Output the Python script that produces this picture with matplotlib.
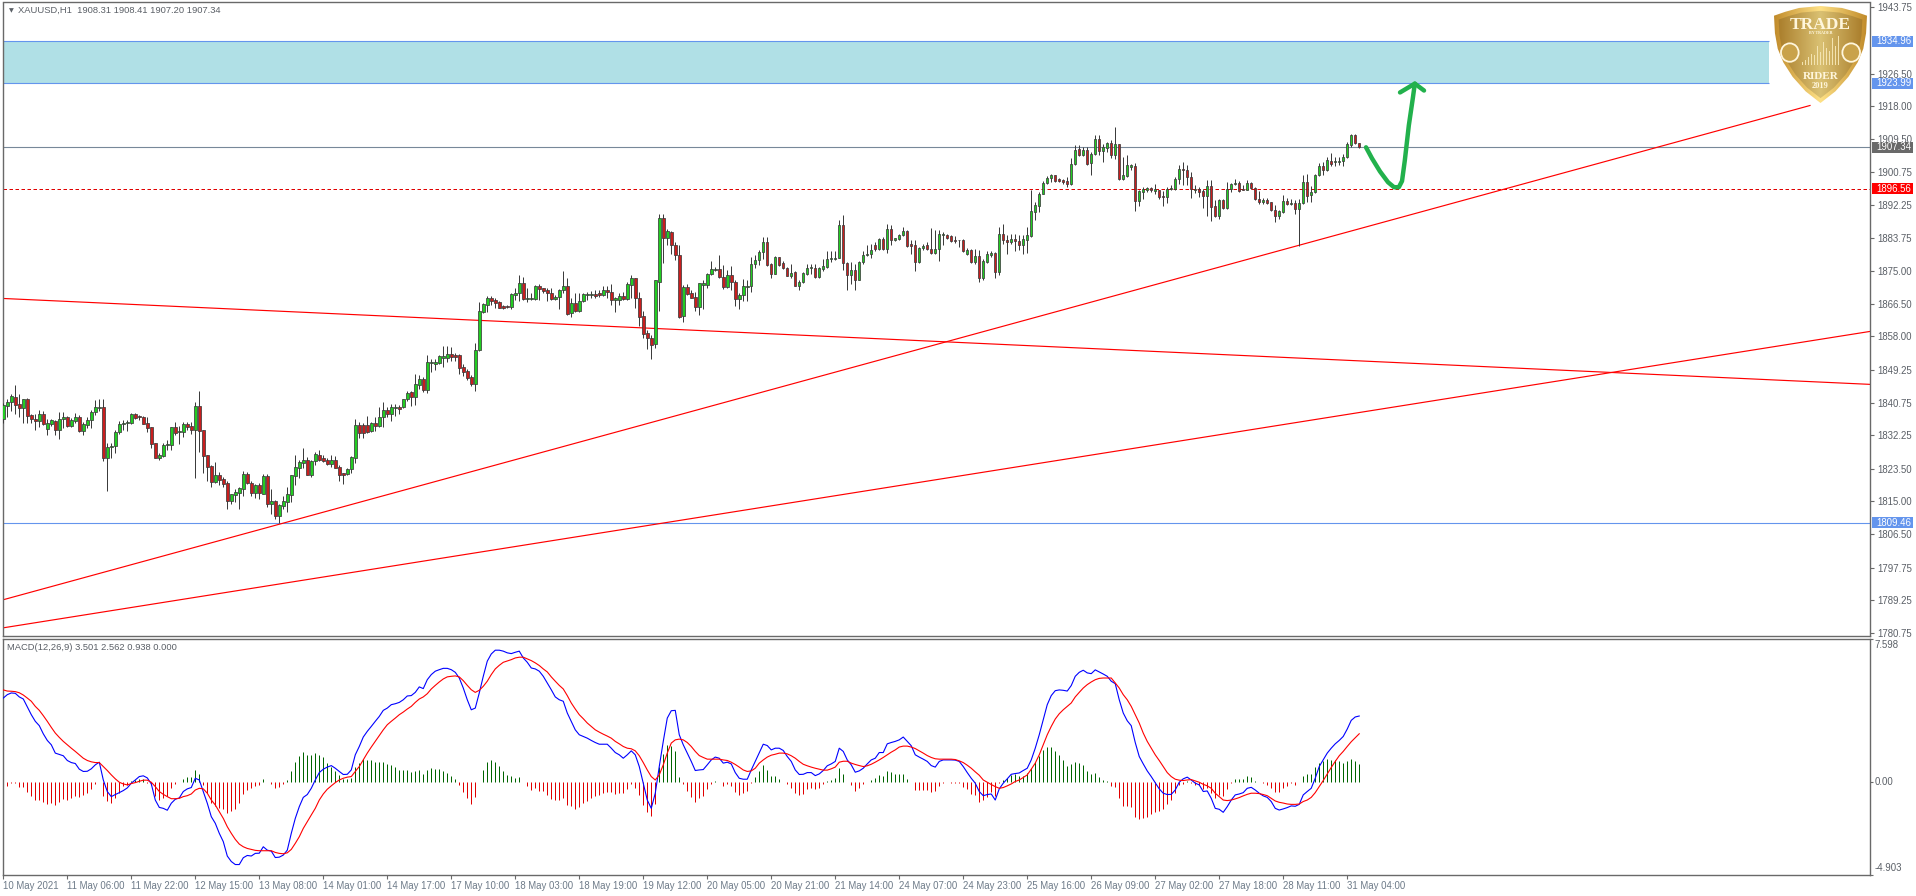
import numpy as np
import matplotlib
matplotlib.use("Agg")
import matplotlib.pyplot as plt
from matplotlib.patches import Rectangle, Polygon, Circle

plt.rcParams['font.family'] = ['Liberation Sans', 'DejaVu Sans']

# ---------- price data (H1 candles) ----------
highs = [
1840.7,1841.8,1843.0,1845.3,1843.0,1841.8,1841.9,1837.9,1837.9,1838.8,
1838.6,1836.4,1836.6,1836.2,1838.2,1838.2,1837.2,1836.8,1838.1,1837.5,
1835.7,1837.0,1838.8,1841.4,1841.8,1841.6,1830.1,1830.3,1833.6,1836.0,
1836.2,1836.2,1838.1,1838.1,1837.5,1837.3,1836.9,1834.4,1830.3,1827.5,
1830.3,1831.0,1834.4,1835.7,1834.6,1835.6,1835.7,1835.7,1841.0,1843.7,
1833.7,1827.2,1824.5,1825.2,1822.7,1821.4,1820.4,1816.9,1818.1,1818.8,
1822.9,1822.6,1820.3,1819.5,1819.7,1822.1,1822.1,1818.1,1815.3,1814.2,
1816.4,1818.8,1821.9,1827.2,1825.9,1828.9,1826.5,1825.9,1827.9,1828.4,
1827.1,1826.2,1827.1,1826.8,1824.5,1822.5,1823.8,1826.8,1836.4,1835.7,
1835.5,1837.2,1835.7,1837.0,1839.5,1841.0,1839.5,1840.5,1840.5,1840.2,
1841.8,1843.8,1843.8,1848.2,1847.9,1847.5,1853.1,1852.2,1852.2,1853.1,
1855.4,1855.4,1855.3,1853.8,1853.4,1850.9,1849.4,1848.0,1856.4,1867.0,
1866.8,1868.5,1868.5,1868.1,1867.2,1866.3,1866.2,1869.2,1870.5,1873.9,
1873.5,1870.5,1869.2,1871.3,1871.6,1870.7,1870.5,1870.5,1868.7,1870.4,
1875.0,1873.3,1868.1,1869.2,1869.2,1869.2,1869.6,1869.9,1870.2,1870.0,
1871.1,1871.2,1871.6,1868.3,1869.4,1869.6,1872.2,1873.9,1873.3,1869.6,
1864.6,1859.6,1858.3,1872.6,1890.0,1889.8,1886.1,1885.5,1882.6,1881.8,
1871.5,1871.6,1870.2,1869.6,1872.0,1872.6,1874.6,1877.6,1876.0,1879.2,
1876.6,1875.3,1876.3,1872.8,1869.2,1873.0,1872.8,1878.7,1879.2,1880.5,
1883.8,1883.8,1877.2,1878.9,1878.7,1877.6,1876.1,1876.8,1875.0,1872.6,
1874.8,1877.0,1877.0,1876.8,1876.1,1878.1,1880.2,1880.2,1880.2,1888.4,
1889.6,1877.4,1877.4,1876.8,1877.7,1880.2,1881.8,1882.2,1882.5,1883.7,
1883.8,1887.2,1887.1,1883.7,1884.8,1886.4,1885.7,1883.1,1883.1,1881.2,
1882.2,1882.5,1886.3,1885.7,1885.8,1885.1,1884.8,1884.4,1884.2,1883.2,
1883.5,1881.1,1880.9,1880.7,1880.4,1878.3,1880.2,1880.2,1880.0,1886.4,
1887.2,1884.4,1884.8,1884.8,1884.4,1884.4,1886.5,1896.1,1893.0,1895.6,
1898.5,1899.7,1900.4,1900.2,1899.4,1899.1,1899.6,1904.5,1907.8,1908.0,
1907.4,1907.4,1906.0,1910.4,1910.4,1908.2,1908.7,1909.3,1912.7,1908.2,
1904.9,1905.2,1903.0,1903.2,1896.2,1897.0,1897.0,1897.0,1897.8,1896.3,
1895.9,1897.0,1897.6,1899.6,1902.6,1903.5,1902.6,1900.8,1897.4,1897.0,
1896.5,1898.9,1898.9,1893.5,1893.7,1893.7,1898.3,1898.1,1899.0,1898.4,
1897.5,1898.7,1898.2,1897.0,1895.9,1894.2,1894.1,1893.1,1892.2,1891.0,
1894.8,1894.1,1893.7,1893.5,1893.7,1900.0,1900.4,1897.1,1900.4,1903.2,
1903.5,1904.9,1905.8,1904.8,1904.9,1905.5,1908.7,1910.7,1910.7,1908.41]

lows = [
1835.5,1837.0,1838.6,1837.7,1837.0,1835.3,1835.5,1835.3,1833.7,1834.4,
1834.9,1832.4,1834.6,1832.4,1831.3,1834.0,1834.4,1834.3,1835.3,1833.1,
1832.4,1834.0,1834.0,1837.6,1838.6,1825.6,1817.8,1826.3,1827.5,1832.5,
1833.6,1833.4,1835.1,1836.4,1836.2,1835.1,1833.1,1829.0,1826.4,1825.8,
1826.5,1828.4,1828.4,1832.3,1829.9,1831.8,1833.6,1832.5,1821.2,1827.8,
1822.5,1820.4,1818.8,1819.7,1819.3,1818.8,1813.0,1814.3,1814.8,1813.1,
1816.4,1819.5,1816.4,1816.0,1815.5,1816.9,1813.6,1811.7,1810.3,1809.4,
1812.9,1812.3,1814.9,1819.2,1821.2,1823.6,1821.8,1821.4,1824.5,1825.6,
1825.3,1824.6,1824.0,1823.6,1820.4,1819.6,1821.9,1822.3,1825.1,1831.5,
1831.5,1832.7,1833.1,1833.3,1834.3,1834.4,1836.9,1836.0,1837.2,1837.7,
1839.4,1841.1,1839.8,1840.0,1844.2,1843.6,1843.3,1848.8,1849.2,1850.8,
1850.0,1851.4,1851.6,1851.6,1848.2,1847.6,1846.6,1845.0,1843.8,1854.2,
1864.2,1864.4,1866.1,1865.5,1865.3,1865.1,1865.3,1865.1,1867.4,1867.2,
1867.4,1867.0,1867.4,1867.6,1867.4,1869.2,1867.2,1867.6,1867.6,1865.2,
1869.2,1863.6,1863.1,1864.4,1864.4,1867.1,1867.4,1868.1,1868.1,1868.3,
1868.6,1867.9,1866.3,1864.4,1866.3,1867.4,1867.4,1867.9,1865.5,1860.8,
1857.5,1854.7,1852.1,1854.9,1864.7,1877.2,1881.8,1879.4,1877.9,1862.8,
1861.8,1868.7,1867.9,1864.6,1863.5,1865.1,1870.5,1874.0,1875.0,1873.2,
1870.3,1870.5,1870.0,1865.9,1865.1,1867.2,1867.2,1869.7,1875.8,1876.6,
1878.1,1876.4,1873.2,1874.2,1876.4,1875.7,1873.7,1873.3,1871.1,1870.0,
1871.9,1874.0,1874.4,1873.3,1873.3,1875.1,1875.8,1877.4,1878.0,1878.4,
1875.2,1870.1,1871.6,1870.2,1872.6,1876.8,1878.9,1878.5,1880.3,1880.6,
1880.6,1879.8,1881.8,1882.9,1883.2,1884.3,1881.3,1879.6,1875.0,1877.2,
1880.6,1880.6,1879.6,1879.6,1877.6,1881.8,1883.4,1882.7,1882.4,1881.3,
1880.0,1879.2,1877.2,1877.0,1872.2,1872.8,1877.2,1878.7,1873.1,1874.1,
1882.0,1879.6,1882.0,1880.3,1880.5,1879.6,1879.8,1883.9,1888.3,1890.4,
1895.0,1897.8,1898.2,1898.3,1898.2,1897.8,1897.0,1897.5,1902.6,1905.0,
1905.0,1902.8,1900.2,1905.4,1905.4,1903.5,1906.1,1904.6,1904.3,1898.9,
1898.9,1899.6,1901.5,1890.7,1892.0,1893.8,1895.6,1895.6,1895.0,1893.9,
1892.0,1892.9,1896.3,1896.3,1897.8,1897.4,1897.4,1894.1,1895.4,1894.4,
1891.5,1889.3,1888.1,1889.1,1888.5,1891.3,1891.3,1895.6,1897.5,1895.6,
1896.1,1896.1,1896.4,1893.6,1892.6,1892.6,1892.6,1890.7,1887.8,1888.7,
1890.3,1892.2,1892.2,1890.0,1881.7,1892.6,1893.0,1893.0,1895.5,1899.7,
1900.0,1901.1,1902.4,1902.4,1902.6,1902.4,1904.6,1907.5,1908.1,1907.2]

opens = [
1836.4,1839.9,1841.0,1842.1,1840.3,1839.4,1841.6,1837.6,1836.6,1836.0,
1837.9,1833.9,1835.2,1836.0,1833.7,1836.5,1836.9,1834.7,1836.0,1836.9,
1833.4,1835.0,1836.1,1838.4,1839.3,1839.5,1826.4,1829.2,1829.5,1833.1,
1835.1,1835.3,1835.5,1837.7,1837.2,1837.1,1835.3,1834.4,1830.1,1826.4,
1826.9,1829.8,1829.8,1834.4,1833.0,1833.1,1835.2,1834.6,1833.7,1839.8,
1833.5,1827.1,1824.2,1820.1,1822.0,1820.7,1819.7,1815.1,1816.6,1817.3,
1818.3,1822.1,1819.9,1817.3,1819.3,1817.0,1821.6,1814.4,1815.0,1811.3,
1813.8,1814.9,1816.7,1821.7,1823.8,1825.0,1825.9,1821.8,1825.4,1827.2,
1826.2,1825.7,1824.8,1825.8,1824.0,1822.4,1822.2,1823.5,1826.4,1834.8,
1834.8,1834.9,1833.4,1835.3,1834.7,1837.0,1838.7,1837.9,1839.3,1839.5,
1839.5,1841.6,1843.4,1842.3,1845.4,1847.0,1844.0,1851.0,1850.8,1851.1,
1852.4,1852.3,1853.4,1853.1,1853.1,1849.9,1848.9,1847.3,1845.6,1854.4,
1864.4,1866.3,1868.1,1867.4,1867.1,1866.0,1866.0,1865.7,1868.8,1869.2,
1871.8,1867.8,1867.8,1867.8,1871.2,1870.5,1870.0,1869.4,1867.8,1868.3,
1870.2,1871.2,1864.0,1866.8,1864.6,1867.2,1868.8,1868.8,1869.0,1869.4,
1868.9,1870.2,1869.7,1867.6,1867.6,1868.6,1867.8,1871.5,1873.1,1867.9,
1863.3,1859.0,1857.5,1855.9,1872.2,1889.0,1883.7,1885.3,1881.9,1879.3,
1863.2,1870.8,1869.4,1868.2,1865.7,1871.4,1871.4,1874.2,1875.3,1875.5,
1873.6,1870.8,1874.1,1872.3,1867.8,1868.8,1871.0,1871.2,1876.8,1878.0,
1880.0,1882.5,1876.8,1874.3,1878.6,1877.2,1875.9,1873.8,1874.7,1871.2,
1872.2,1874.2,1875.9,1875.9,1873.5,1875.6,1876.1,1878.3,1878.2,1878.5,
1887.1,1877.2,1874.0,1875.4,1872.8,1877.3,1879.2,1879.5,1881.9,1880.8,
1883.5,1880.8,1886.1,1883.2,1883.4,1884.5,1885.6,1882.0,1881.9,1877.4,
1881.1,1881.9,1880.9,1879.8,1880.8,1884.5,1884.5,1884.1,1883.2,1883.2,
1883.2,1879.5,1880.6,1877.4,1878.9,1873.1,1877.4,1879.3,1879.7,1874.8,
1884.8,1883.1,1882.6,1883.5,1882.9,1881.8,1883.2,1884.2,1890.4,1892.0,
1895.1,1898.0,1899.3,1900.0,1899.1,1898.7,1898.4,1897.7,1902.9,1906.8,
1905.3,1906.5,1903.2,1905.6,1909.4,1906.3,1907.2,1908.3,1905.3,1908.1,
1899.0,1899.8,1902.1,1902.3,1893.4,1895.6,1896.3,1896.7,1895.9,1896.1,
1894.7,1894.3,1896.5,1896.5,1899.1,1901.7,1901.5,1899.6,1896.3,1896.5,
1895.9,1894.5,1897.3,1891.9,1889.4,1893.5,1891.6,1896.5,1897.8,1897.9,
1896.5,1896.2,1898.1,1896.6,1893.9,1893.0,1893.6,1893.0,1891.0,1889.4,
1890.4,1893.4,1892.4,1892.8,1891.2,1892.8,1898.2,1894.9,1895.6,1900.0,
1902.4,1901.3,1903.7,1903.5,1903.5,1903.7,1904.8,1908.0,1910.5,1908.31]

closes = [
1840.2,1841.0,1842.4,1840.2,1839.4,1841.6,1837.3,1836.5,1836.0,1837.9,
1835.1,1835.3,1836.1,1833.7,1836.6,1836.9,1834.7,1836.1,1836.9,1833.3,
1835.1,1836.1,1838.4,1839.5,1839.5,1826.4,1829.3,1829.4,1833.2,1835.1,
1835.4,1835.7,1837.7,1836.8,1836.9,1835.2,1834.2,1830.0,1826.4,1827.1,
1829.8,1829.9,1834.4,1832.9,1833.3,1835.1,1834.3,1833.7,1839.8,1833.4,
1826.9,1824.0,1820.1,1822.0,1820.6,1819.5,1815.2,1816.8,1817.4,1818.4,
1822.1,1819.8,1817.3,1819.3,1817.3,1821.6,1814.3,1815.1,1811.3,1814.0,
1815.1,1816.8,1821.8,1823.9,1825.2,1825.9,1821.9,1825.4,1827.3,1825.9,
1825.6,1824.8,1825.8,1823.8,1821.9,1822.0,1823.5,1826.5,1834.8,1832.9,
1832.9,1833.2,1835.3,1834.7,1837.1,1838.7,1837.9,1839.5,1839.5,1839.2,
1841.6,1843.3,1842.3,1845.6,1847.0,1844.0,1851.3,1851.2,1851.3,1852.8,
1852.8,1853.4,1852.7,1852.6,1849.8,1848.8,1847.2,1845.6,1854.4,1864.6,
1866.4,1868.1,1867.2,1866.7,1865.5,1865.4,1865.7,1869.0,1869.2,1871.8,
1867.8,1868.1,1868.1,1871.2,1870.4,1869.9,1869.4,1867.8,1868.3,1870.2,
1871.2,1863.8,1866.8,1864.6,1867.3,1869.0,1869.0,1869.0,1868.6,1868.9,
1870.2,1869.7,1867.6,1867.9,1868.6,1867.8,1871.6,1873.1,1867.9,1863.1,
1858.6,1857.5,1855.7,1872.6,1889.0,1883.7,1885.4,1881.9,1879.2,1863.0,
1870.8,1869.1,1868.0,1865.7,1871.8,1871.8,1874.4,1875.7,1875.7,1873.4,
1870.8,1874.1,1872.2,1867.8,1868.9,1871.2,1871.2,1877.0,1877.8,1880.1,
1882.5,1876.6,1874.3,1878.6,1876.6,1875.9,1873.8,1874.6,1871.2,1872.3,
1874.5,1875.9,1876.0,1873.5,1875.8,1876.3,1878.3,1878.5,1878.5,1887.1,
1877.2,1874.0,1875.4,1872.8,1877.5,1879.3,1879.6,1880.6,1880.7,1883.5,
1880.8,1886.1,1883.1,1883.6,1884.5,1885.6,1881.6,1881.6,1877.4,1881.1,
1881.7,1880.9,1879.8,1880.9,1884.8,1884.8,1883.7,1882.9,1882.9,1883.1,
1880.3,1880.6,1877.4,1879.0,1873.1,1877.6,1879.4,1879.7,1874.8,1884.8,
1883.1,1882.7,1883.5,1882.9,1881.8,1883.3,1884.4,1890.6,1892.2,1895.2,
1898.1,1899.4,1900.2,1898.6,1898.5,1898.2,1897.7,1903.0,1906.7,1905.4,
1906.5,1903.0,1905.6,1909.4,1906.3,1907.3,1908.3,1905.4,1908.1,1899.0,
1900.0,1902.6,1902.6,1893.3,1895.9,1896.5,1896.6,1896.1,1896.5,1894.4,
1894.3,1896.5,1896.7,1899.1,1901.7,1901.3,1899.6,1896.5,1896.5,1895.6,
1894.5,1897.3,1891.7,1889.4,1893.5,1891.6,1896.5,1897.8,1898.1,1895.9,
1896.2,1898.1,1896.7,1893.8,1893.0,1893.6,1892.8,1890.9,1889.4,1890.6,
1893.4,1892.5,1892.8,1891.2,1892.9,1898.3,1894.6,1895.7,1900.0,1902.3,
1901.3,1903.9,1902.9,1903.7,1903.7,1904.9,1908.1,1910.4,1908.4,1907.34]

# ---------- MACD data ----------
macd_main = [
4.45,4.63,4.72,4.70,4.51,4.40,3.98,3.57,3.22,2.99,2.56,2.21,1.98,1.54,1.47,1.40,1.15,1.04,0.99,0.69,
0.57,0.58,0.71,0.92,1.06,0.12,-0.49,-0.76,-0.65,-0.55,-0.44,-0.30,-0.05,0.12,0.30,0.34,0.23,-0.09,-0.94,-1.33,
-1.38,-1.48,-1.11,-0.90,-0.83,-0.49,-0.35,-0.28,0.21,0.12,-0.49,-1.11,-1.82,-2.17,-2.70,-3.14,-3.90,-4.19,-4.35,-4.35,
-3.99,-3.87,-3.90,-3.76,-3.75,-3.41,-3.59,-3.64,-3.98,-3.96,-3.85,-3.59,-2.70,-1.91,-1.29,-0.80,-0.65,-0.32,0.12,0.51,
0.69,0.80,0.88,0.74,0.57,0.41,0.42,0.65,1.45,1.89,2.39,2.69,2.95,3.22,3.48,3.80,3.92,4.10,4.15,4.22,
4.36,4.56,4.58,4.75,5.04,4.95,5.42,5.69,5.87,5.95,6.02,6.02,5.95,5.81,5.51,4.98,4.36,3.83,3.92,4.72,
5.60,6.40,6.78,6.98,6.98,6.93,6.84,6.80,6.87,6.93,6.57,6.34,6.04,5.99,5.87,5.60,5.25,4.89,4.51,4.36,
4.28,3.66,3.22,2.77,2.51,2.42,2.33,2.21,2.10,2.01,2.01,2.01,1.80,1.57,1.45,1.27,1.45,1.66,1.45,0.83,
-0.05,-0.94,-1.38,-0.58,0.83,2.16,3.39,3.78,3.80,2.51,1.98,1.54,1.10,0.62,0.65,0.67,0.92,1.18,1.33,1.27,
1.01,1.06,0.97,0.51,0.21,0.16,0.16,0.65,1.10,1.54,2.01,1.94,1.71,1.80,1.80,1.68,1.36,1.10,0.65,0.41,
0.42,0.51,0.51,0.35,0.44,0.62,0.87,0.97,1.10,1.80,1.63,1.18,0.92,0.53,0.60,0.74,0.97,1.18,1.27,1.57,
1.57,2.03,2.10,2.16,2.24,2.39,2.16,1.93,1.45,1.33,1.22,1.10,0.88,0.80,1.10,1.18,1.18,1.18,1.17,1.10,
0.83,0.51,0.21,-0.05,-0.49,-0.71,-0.65,-0.62,-0.94,-0.35,-0.05,0.18,0.42,0.46,0.49,0.62,0.74,1.18,1.80,2.51,
3.30,4.10,4.58,4.84,4.88,4.86,4.82,5.11,5.60,5.81,5.92,5.78,5.74,5.94,5.83,5.72,5.60,5.34,5.21,4.36,
3.66,3.25,2.99,2.10,1.36,0.97,0.60,0.30,-0.02,-0.35,-0.58,-0.65,-0.64,-0.41,0.00,0.18,0.27,0.12,-0.05,-0.14,
-0.49,-0.46,-0.85,-1.38,-1.43,-1.59,-1.29,-0.94,-0.67,-0.62,-0.55,-0.32,-0.27,-0.41,-0.58,-0.72,-0.80,-1.02,-1.38,-1.47,
-1.41,-1.34,-1.25,-1.27,-1.17,-0.67,-0.49,-0.32,0.21,0.83,1.18,1.54,1.80,2.03,2.21,2.42,2.81,3.27,3.45,3.501]

macd_signal = [
4.88,4.82,4.81,4.79,4.73,4.61,4.45,4.28,4.01,3.80,3.52,3.22,2.90,2.60,2.37,2.16,1.98,1.80,1.63,1.45,
1.27,1.15,1.08,1.04,1.04,0.83,0.62,0.39,0.18,0.00,-0.09,-0.14,-0.07,-0.02,0.05,0.11,0.11,0.00,-0.23,-0.49,
-0.64,-0.76,-0.87,-0.87,-0.85,-0.76,-0.71,-0.62,-0.41,-0.32,-0.35,-0.58,-0.94,-1.20,-1.55,-1.91,-2.35,-2.70,-3.02,-3.27,
-3.41,-3.50,-3.55,-3.60,-3.62,-3.62,-3.62,-3.62,-3.71,-3.76,-3.78,-3.73,-3.55,-3.23,-2.88,-2.44,-2.08,-1.73,-1.38,-0.94,
-0.62,-0.37,-0.19,-0.02,0.12,0.21,0.27,0.30,0.57,0.83,1.18,1.54,1.86,2.16,2.46,2.77,3.04,3.22,3.39,3.57,
3.71,3.87,4.01,4.22,4.40,4.51,4.68,4.93,5.12,5.30,5.46,5.57,5.60,5.62,5.57,5.37,5.12,4.89,4.75,4.86,
5.07,5.34,5.69,5.99,6.18,6.34,6.41,6.48,6.57,6.61,6.61,6.52,6.43,6.31,6.17,5.99,5.83,5.57,5.34,5.12,
4.93,4.58,4.19,3.87,3.57,3.36,3.13,2.95,2.77,2.65,2.54,2.44,2.33,2.16,2.03,1.89,1.80,1.77,1.66,1.40,
1.04,0.65,0.30,0.12,0.39,0.92,1.54,2.07,2.24,2.28,2.24,2.10,1.89,1.63,1.41,1.31,1.22,1.22,1.22,1.22,
1.18,1.15,1.06,0.94,0.80,0.65,0.57,0.60,0.74,1.01,1.18,1.33,1.43,1.48,1.54,1.54,1.50,1.40,1.27,1.10,
0.95,0.87,0.80,0.74,0.69,0.64,0.64,0.71,0.80,1.06,1.11,1.11,1.01,0.94,0.88,0.83,0.87,0.95,1.06,1.18,
1.31,1.45,1.59,1.71,1.86,1.91,1.91,1.86,1.78,1.66,1.54,1.41,1.31,1.24,1.22,1.22,1.22,1.22,1.20,1.13,
1.04,0.90,0.74,0.55,0.37,0.12,0.00,-0.12,-0.23,-0.32,-0.28,-0.19,-0.09,0.04,0.12,0.25,0.39,0.69,1.01,1.45,
1.98,2.51,2.95,3.34,3.62,3.83,4.01,4.19,4.51,4.75,4.98,5.16,5.30,5.42,5.49,5.51,5.51,5.51,5.25,4.98,
4.63,4.36,4.01,3.57,3.13,2.60,2.16,1.80,1.45,1.15,0.83,0.51,0.30,0.16,0.11,0.09,0.12,0.14,0.07,0.00,
-0.11,-0.19,-0.32,-0.58,-0.76,-0.94,-0.97,-0.94,-0.88,-0.81,-0.72,-0.64,-0.58,-0.58,-0.60,-0.65,-0.71,-0.85,-0.99,-1.06,
-1.10,-1.15,-1.17,-1.17,-1.15,-1.02,-0.94,-0.80,-0.55,-0.23,0.09,0.44,0.78,1.10,1.40,1.63,1.89,2.14,2.35,2.562]

macd_hist = [
-0.41,-0.19,-0.05,-0.05,-0.23,-0.23,-0.49,-0.71,-0.94,-0.94,-1.02,-1.15,-1.11,-1.20,-1.02,-0.90,-0.94,-0.81,-0.72,-0.76,
-0.67,-0.55,-0.35,-0.07,0.00,-0.72,-0.99,-1.10,-0.85,-0.58,-0.18,-0.14,0.05,0.12,0.16,0.16,-0.05,-0.14,-0.71,-0.94,
-0.81,-0.72,-0.32,-0.07,0.00,0.18,0.30,0.30,0.65,0.44,-0.14,-0.58,-1.08,-1.25,-1.38,-1.43,-1.61,-1.52,-1.41,-1.11,
-0.62,-0.41,-0.32,-0.18,-0.14,0.18,0.00,-0.11,-0.28,-0.23,-0.11,0.12,0.60,1.06,1.38,1.61,1.43,1.45,1.54,1.45,
1.31,1.04,0.83,0.57,0.39,0.18,0.18,0.21,0.81,1.01,1.22,1.18,1.18,1.06,1.06,1.06,0.97,0.92,0.83,0.65,
0.65,0.65,0.55,0.60,0.64,0.46,0.65,0.76,0.72,0.72,0.60,0.51,0.34,0.19,-0.12,-0.49,-0.85,-1.13,-0.76,0.02,
0.65,1.06,1.18,1.06,0.88,0.60,0.37,0.34,0.23,0.28,0.00,-0.19,-0.41,-0.28,-0.46,-0.46,-0.67,-0.88,-0.92,-0.92,
-0.83,-1.20,-1.25,-1.40,-1.29,-1.10,-0.99,-0.85,-0.72,-0.69,-0.55,-0.51,-0.53,-0.62,-0.55,-0.55,-0.37,-0.09,-0.32,-0.67,
-1.20,-1.55,-1.77,-1.17,0.83,1.50,1.98,1.93,1.63,0.30,-0.09,-0.46,-0.76,-1.02,-0.81,-0.71,-0.37,-0.09,0.04,0.00,
-0.18,-0.11,-0.18,-0.49,-0.67,-0.58,-0.46,-0.04,0.30,0.62,0.92,0.65,0.35,0.35,0.18,0.02,-0.11,-0.32,-0.55,-0.67,
-0.62,-0.37,-0.32,-0.35,-0.32,-0.09,0.04,0.14,0.25,0.76,0.44,0.02,-0.12,-0.46,-0.32,-0.09,0.00,0.12,0.21,0.39,
0.35,0.60,0.55,0.46,0.46,0.46,0.19,0.00,-0.41,-0.41,-0.41,-0.41,-0.51,-0.48,-0.19,-0.05,0.00,-0.04,-0.04,-0.05,
-0.25,-0.35,-0.64,-0.67,-1.02,-0.92,-0.80,-0.51,-0.71,-0.05,0.12,0.23,0.39,0.44,0.34,0.34,0.48,0.76,1.06,1.40,
1.71,1.87,1.87,1.66,1.45,1.15,0.88,0.95,1.08,1.04,0.92,0.60,0.46,0.51,0.28,0.12,0.07,-0.19,-0.23,-0.85,
-1.24,-1.25,-1.29,-1.86,-1.93,-1.91,-1.82,-1.68,-1.55,-1.50,-1.43,-1.15,-0.94,-0.55,-0.14,-0.09,0.07,-0.04,-0.14,-0.14,
-0.37,-0.32,-0.58,-0.81,-0.67,-0.72,-0.35,-0.02,0.18,0.19,0.19,0.34,0.30,0.05,0.00,-0.04,-0.12,-0.32,-0.49,-0.51,
-0.28,-0.18,-0.04,-0.12,0.00,0.34,0.41,0.44,0.78,1.04,1.10,1.24,1.18,1.18,1.10,1.04,1.10,1.24,1.10,0.938]

# ---------- axis labels / levels ----------
date_labels = ["10 May 2021","11 May 06:00","11 May 22:00","12 May 15:00","13 May 08:00","14 May 01:00",
               "14 May 17:00","17 May 10:00","18 May 03:00","18 May 19:00","19 May 12:00","20 May 05:00",
               "20 May 21:00","21 May 14:00","24 May 07:00","24 May 23:00","25 May 16:00","26 May 09:00",
               "27 May 02:00","27 May 18:00","28 May 11:00","31 May 04:00"]
date_positions = [16 * k for k in range(len(date_labels))]
price_ticks = [1943.75,1926.50,1918.00,1909.50,1900.75,1892.25,1883.75,1875.00,1866.50,1858.00,
               1849.25,1840.75,1832.25,1823.50,1815.00,1806.50,1797.75,1789.25,1780.75]
macd_ticks = [7.598, 0.0, -4.903]
zone_low, zone_high = 1923.99, 1934.96
level_last, level_mid, level_low = 1907.34, 1896.56, 1809.46
trend_a_x, trend_a_y = [-0.2, 451.7], [1789.3, 1918.2]
trend_b_x, trend_b_y = [-0.2, 466.7], [1782.0, 1859.3]
trend_c_x, trend_c_y = [-0.2, 466.7], [1867.9, 1845.5]
arrow_x = [340.7, 342.2, 344.2, 346.2, 347.7, 348.9, 349.7, 350.4, 351.4, 352.4, 352.9]
arrow_y = [1907.3, 1904.4, 1901.0, 1898.2, 1896.9, 1896.9, 1898.5, 1903.9, 1913.0, 1920.1, 1923.9]
arrow_head_x = [349.2, 352.9, 355.2]
arrow_head_y = [1921.6, 1923.9, 1922.1]

assert len(highs) == len(lows) == len(opens) == len(closes) == 340
assert len(macd_main) == len(macd_signal) == len(macd_hist) == 340

W, H = 1916, 896
AX_L, AX_R = 2.5, 1870.0
M_T, M_B = 2.5, 636.0
S_T, S_B = 638.5, 875.0
GREY = '#696969'
TXT = '#5a5f66'

fig = plt.figure(figsize=(W / 100, H / 100), dpi=100, facecolor='white')
ax = fig.add_axes([AX_L / W, 1 - M_B / H, (AX_R - AX_L) / W, (M_B - M_T) / H])
ax2 = fig.add_axes([AX_L / W, 1 - S_B / H, (AX_R - AX_L) / W, (S_B - S_T) / H])

xlim = (-0.2, 466.7)
for a in (ax, ax2):
    a.set_xlim(*xlim)
    for s in a.spines.values():
        s.set_color(GREY)
        s.set_linewidth(1.0)
    a.yaxis.tick_right()
    a.tick_params(axis='y', length=3, width=0.8, color=GREY, labelsize=6.9, labelcolor=TXT, pad=2.2)
ax.set_ylim(1779.9, 1945.05)
ax2.set_ylim(-4.903, 7.598)

# zone, levels
zone_right = 441.4
ax.add_patch(Rectangle((xlim[0], zone_low), zone_right - xlim[0], zone_high - zone_low, facecolor='#B0E0E6',
                       edgecolor='none', zorder=1))
ax.hlines([zone_low, zone_high], xlim[0], zone_right, color='#6495ED', lw=0.8, zorder=1.5)
ax.axhline(level_last, color='#778899', lw=0.8, zorder=2)
ax.axhline(level_mid, color='#E00000', lw=0.72, ls=(0, (3.5, 2.5)), zorder=2)
ax.axhline(level_low, color='#6495ED', lw=0.8, zorder=2)

# trend lines
for tx, ty in ((trend_a_x, trend_a_y), (trend_b_x, trend_b_y), (trend_c_x, trend_c_y)):
    ax.plot(tx, ty, color='#FF0000', lw=0.85, zorder=2.2)

# candles
xs = np.arange(len(opens))
o, h, l, c = map(np.array, (opens, highs, lows, closes))
ax.vlines(xs, l, h, color='#3c3c3c', lw=0.72, zorder=3)
body_colors = ['#22CC22' if ci >= oi else '#C81E1E' for oi, ci in zip(o, c)]
ax.bar(xs, np.maximum(np.abs(c - o), 0.15), bottom=np.minimum(o, c), width=0.62, color=body_colors,
       edgecolor='#3c3c3c', linewidth=0.55, zorder=4)

# hand-drawn arrow
ax.plot(arrow_x, arrow_y, color='#22B14C', lw=3.2, solid_capstyle='round', solid_joinstyle='round', zorder=5)
ax.plot(arrow_head_x, arrow_head_y, color='#22B14C', lw=3.2, solid_capstyle='round', solid_joinstyle='round', zorder=5)

# price axis
ax.set_yticks(price_ticks)
ax.set_yticklabels([f'{v:.2f}' for v in price_ticks])
ax.set_xticks([])

# price tags
ytr = ax.get_yaxis_transform()
tags = [(zone_high, '#6495ED'), (zone_low, '#6495ED'), (level_last, GREY), (level_mid, '#FF0000'), (level_low, '#6495ED')]
for val, col in tags:
    ax.add_patch(Rectangle(((1872 - AX_L) / (AX_R - AX_L), val - 1.45), 41 / (AX_R - AX_L), 2.9, transform=ytr,
                           facecolor=col, edgecolor='none', clip_on=False, zorder=20))
    ax.text((1876 - AX_L) / (AX_R - AX_L), val, f'{val:.2f}', transform=ytr, color='white', fontsize=6.9,
            va='center', ha='left', clip_on=False, zorder=21)

# header
ax.text(0.0033, 0.9875, '▼', transform=ax.transAxes, fontsize=4.5, color=TXT, family='DejaVu Sans', va='center')
ax.text(0.0085, 0.9875, 'XAUUSD,H1  1908.31 1908.41 1907.20 1907.34', transform=ax.transAxes,
        fontsize=6.75, color=TXT, va='center')

# MACD
colors_hist = ['#006400' if v > 0 else '#E00000' for v in macd_hist]
ax2.vlines(xs, 0, macd_hist, colors=colors_hist, lw=0.72, zorder=2)
ax2.plot(xs, macd_main, color='#0000FF', lw=0.8, zorder=3)
ax2.plot(xs, macd_signal, color='#FF0000', lw=0.8, zorder=3)
ax2.text(0.0025, 0.9615, 'MACD(12,26,9) 3.501 2.562 0.938 0.000', transform=ax2.transAxes,
         fontsize=6.75, color=TXT, va='center')

ax2.set_yticks(macd_ticks)
ax2.set_yticklabels([])
ax2.tick_params(axis='y', length=2)
ytr2 = ax2.get_yaxis_transform()
for val, lab, off in ((7.598, '7.598', -5), (0.0, '0.00', 0), (-4.903, '-4.903', 5)):
    ax2.annotate(lab, xy=(1, val), xycoords=ytr2, xytext=(3.0, off), textcoords='offset points',
                 fontsize=6.9, color=TXT, va='center', ha='left', annotation_clip=False)

ax2.set_xticks(date_positions)
ax2.set_xticklabels(date_labels, ha='left', fontsize=6.9, color='#6d7a88')
ax2.tick_params(axis='x', length=3, width=0.8, color=GREY, pad=1.5)

# ---------- gold logo ----------
logo = fig.add_axes([1774 / W, 1 - 103 / H, 93 / W, 97 / H], facecolor='none')
logo.axis('off')
logo.set_zorder(30)


def shield(scale):
    pts = np.array([(0.0, .90), (.12, .94), (.27, .98), (.5, 1.0), (.73, .98), (.88, .94), (1.0, .90),
                    (.99, .72), (.96, .56), (.90, .42), (.80, .27), (.66, .12), (.5, 0.0), (.34, .12),
                    (.20, .27), (.10, .42), (.04, .56), (.01, .72)])
    return (pts - [.5, .5]) * scale + [.5, .5]


grad = np.linspace(0, 1, 128)
ramp_dark = np.array([0.72, 0.52, 0.16])
ramp_light = np.array([0.95, 0.84, 0.50])
band = 1 - np.abs(grad - 0.5) * 2
img = (ramp_dark[None, :] + (ramp_light - ramp_dark)[None, :] * band[:, None])[None, :, :]
outer = Polygon(shield(1.0), closed=True, transform=logo.transData, facecolor='none', edgecolor='none')
logo.add_patch(outer)
im = logo.imshow(np.clip(img * 1.05, 0, 1), extent=(0, 1, 0, 1), aspect='auto', zorder=1)
im.set_clip_path(outer)
inner_img = logo.imshow(np.clip(img[:, ::-1, :] * 0.9, 0, 1), extent=(0, 1, 0, 1), aspect='auto', zorder=2)
inner = Polygon(shield(0.90), closed=True, transform=logo.transData, facecolor='none', edgecolor='none')
logo.add_patch(inner)
inner_img.set_clip_path(inner)
logo.set_xlim(0, 1)
logo.set_ylim(0, 1)
for t_txt, ty, size in (('TRADE', .80, 12.5), ('BY TRADER', .72, 3.0), ('RIDER', .27, 8.0), ('2019', .18, 6.0)):
    logo.text(.5, ty, t_txt, color='#FFF6DC', fontsize=size, ha='center', va='center',
              family='Liberation Serif', weight='bold', zorder=5)
for cx in (.17, .83):
    logo.add_patch(Circle((cx, .52), .095, facecolor='#C9A24A', edgecolor='#FFF6DC', lw=1.3, zorder=5))
logo_bars = [.03, .05, .08, .12, .10, .20, .14, .24, .18, .15, .28, .20, .30]
for k, bh in enumerate(logo_bars):
    logo.add_patch(Rectangle((.30 + k * .032, .39), .016, bh, facecolor='#F3E3B0', edgecolor='none', zorder=4))

fig.savefig('out.png', dpi=100, facecolor='white')
